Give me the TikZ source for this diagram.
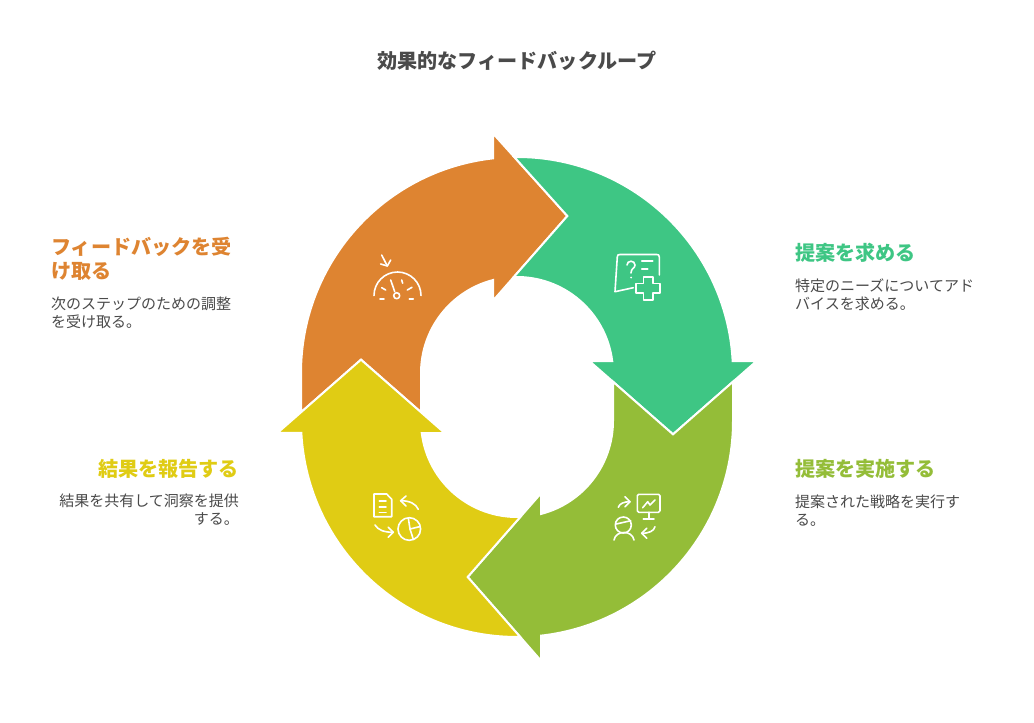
\documentclass[tikz,border=0pt]{standalone}
\usepackage{fontspec}
\usepackage{xcolor}
\setmainfont{Noto Sans CJK JP}
\definecolor{loopgreen}{RGB}{62, 198, 132}
\definecolor{loopolive}{RGB}{148, 189, 56}
\definecolor{loopyellow}{RGB}{224, 204, 20}
\definecolor{looporange}{RGB}{222, 132, 49}
\definecolor{textgray}{RGB}{74, 74, 74}

\begin{document}
\begin{tikzpicture}[
        x=1pt, y=1pt,
        segment/.style={draw=white, line width=2pt, line join=miter},
        icon/.style={draw=white, line width=1.6pt, line cap=round, line join=round},
        title/.style={text=textgray, font=\fontsize{20.1}{24}\selectfont\bfseries, inner sep=0pt},
        head/.style={font=\fontsize{20.1}{24}\selectfont\bfseries, inner sep=0pt},
        body/.style={text=textgray, font=\fontsize{15}{18}\selectfont, inner sep=0pt}
    ]
    \useasboundingbox[fill=white] (0, 0) rectangle (1034, -723);

    % Title
    \node[title] (main_title) at (517, -60.7) {効果的なフィードバックループ};

    % Ring segments
    \fill[looporange, segment] (301, -412.26) -- (301, -373) arc[start angle=180, end angle=96.38, radius=216pt] -- (493, -133.4) -- (567.35, -216) -- (493, -300.7) -- (493, -280.05) arc[start angle=104.48, end angle=180, radius=96pt] -- (421, -412.26) -- (361, -359.67) -- cycle;
    \fill[loopgreen, segment] (514.25, -157) arc[start angle=90.73, end angle=3.18, radius=216pt] -- (756.66, -361) -- (673, -434.33) -- (589.34, -361) -- (612.2, -361) arc[start angle=7.18, end angle=91.9, radius=96pt] -- (567.35, -216) -- cycle;
    \fill[loopolive, segment] (733, -381.7) -- (733, -421) arc[start angle=0, end angle=-83.62, radius=216pt] -- (541, -660.7) -- (467.67, -577) -- (541, -493.3) -- (541, -513.95) arc[start angle=-75.52, end angle=0, radius=96pt] -- (613, -381.7) -- (673, -434.33) -- cycle;
    \fill[loopyellow, segment] (520.2, -636.95) arc[start angle=-89.15, end angle=-176.82, radius=216pt] -- (277.34, -433) -- (361, -359.67) -- (444.66, -433) -- (421.75, -433) arc[start angle=187.18, end angle=271.97, radius=96pt] -- (467.67, -577) -- cycle;

    % Gauge icon
    \draw[icon] (374, -295.5) arc[start angle=180, end angle=0, radius=23.5pt];
    \draw[icon] (396.7, -295.7) circle (3pt);
    \draw[icon] (390.7, -280) -- (394.7, -291.7);
    \draw[icon] (381.7, -287.7) -- (385.7, -290);
    \draw[icon] (380, -298.7) -- (384, -298.7);
    \draw[icon] (401.7, -280) -- (402.7, -283.3);
    \draw[icon] (407.3, -290) -- (412, -287.3);
    \draw[icon] (409.3, -298.7) -- (413.3, -298.7);
    \draw[icon] (381.7, -255) -- (387.3, -266);
    \draw[icon] (380.7, -264) -- (387.3, -266) -- (390.7, -260);

    % Question icon
    \draw[icon] (633.3, -287.7) -- (615, -291.7) -- (617.3, -257) .. controls (617.5, -255) and (618, -254.5) .. (620, -254.5) -- (656.5, -254.5) .. controls (658.5, -254.5) and (659.3, -255) .. (659.3, -257) -- (659.3, -275);
    \draw[icon] (627, -265) .. controls (627, -260) and (635, -260) .. (635, -265) .. controls (635, -268.5) and (631, -268) .. (631, -273);
    \fill[white] (631, -277.5) circle (1pt);
    \draw[icon] (641.7, -261) -- (652.7, -261);
    \draw[icon] (641.7, -269) -- (647.7, -269);
    \draw[icon] (643.3, -276.7) -- (652.7, -276.7) -- (652.7, -283.3) -- (660, -283.3) -- (660, -292.7) -- (652.7, -292.7) -- (652.7, -300) -- (643.3, -300) -- (643.3, -292.7) -- (636, -292.7) -- (636, -283.3) -- (643.3, -283.3) -- cycle;

    % Chart icon
    \draw[icon, rounded corners=1.5pt] (637.3, -494.3) rectangle (660, -512.3);
    \draw[icon] (648.7, -512.3) -- (648.7, -519);
    \draw[icon] (643.3, -519) -- (654, -519);
    \draw[icon] (642.7, -507.7) -- (647.7, -501.7) -- (650, -505) -- (655, -500);
    \draw[icon] (618.3, -507.3) .. controls (619.5, -503.5) and (624, -501.7) .. (630, -501.7);
    \draw[icon] (625, -496.7) -- (630, -501.7) -- (625, -506.7);
    \draw[icon] (655, -526.7) .. controls (654, -531) and (649, -533.3) .. (641.7, -533.3);
    \draw[icon] (646.7, -528.3) -- (641.7, -533.3) -- (646.7, -538.3);
    \draw[icon] (623.3, -525) circle (8pt);
    \draw[icon] (616.3, -524) -- (630.7, -520.7);
    \draw[icon] (614, -540) .. controls (615, -535) and (619, -532.5) .. (624, -532.5) .. controls (629, -532.5) and (633, -535) .. (634, -540);

    % Pie icon
    \draw[icon] (374, -494) -- (386.7, -494) -- (391.7, -499.3) -- (391.7, -516.7) -- (374, -516.7) -- cycle;
    \draw[icon] (379.3, -500.7) -- (386, -500.7);
    \draw[icon] (379.3, -506.7) -- (386, -506.7);
    \draw[icon] (379.3, -512.3) -- (386, -512.3);
    \draw[icon] (418.3, -509.3) .. controls (416, -504) and (410, -500.7) .. (400.7, -500.7);
    \draw[icon] (406, -496) -- (400.7, -500.7) -- (406, -506);
    \draw[icon] (375, -525) .. controls (378, -530) and (384, -532.3) .. (393.3, -532.3);
    \draw[icon] (388.3, -527.3) -- (393.3, -532.3) -- (388.3, -537.3);
    \draw[icon] (409.3, -529) circle (11.3pt);
    \draw[icon] (408.3, -518) -- (410, -529) -- (420.3, -526.5);
    \draw[icon] (410, -529) -- (413.3, -539.3);

    % Labels on the right
    \node[head, text=loopgreen, anchor=west] (seek_head) at (795, -252.7) {提案を求める};
    \node[body, anchor=west, align=left] (seek_body) at (795, -294.7) {特定のニーズについてアド\\バイスを求める。};
    \node[head, text=loopolive, anchor=west] (apply_head) at (795, -468.7) {提案を実施する};
    \node[body, anchor=west, align=left] (apply_body) at (795, -510.7) {提案された戦略を実行す\\る。};

    % Labels on the left
    \node[head, text=looporange, anchor=west, align=left] (receive_head) at (51, -258.7) {フィードバックを受\\け取る};
    \node[body, anchor=west, align=left] (receive_body) at (51, -312.7) {次のステップのための調整\\を受け取る。};
    \node[head, text=loopyellow, anchor=east] (report_head) at (239, -468.7) {結果を報告する};
    \node[body, anchor=east, align=right] (report_body) at (239, -509.7) {結果を共有して洞察を提供\\する。};

\end{tikzpicture}
\end{document}
